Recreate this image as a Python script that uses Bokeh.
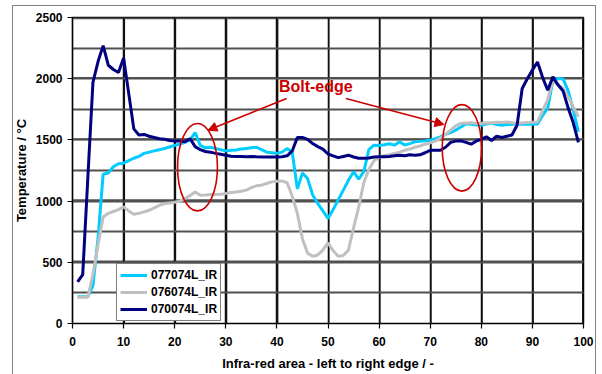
from bokeh.plotting import figure
from bokeh.models import (Range1d, FixedTicker, Legend, LegendItem, Label, Arrow,
                          NormalHead, ColumnDataSource, InlineStyleSheet)
from bokeh.embed import file_html
from bokeh.resources import INLINE

# ---------------- data ----------------
x_pos = list(range(1, 100))

ir_077074 = [218, 218, 220, 310, 700, 1220, 1230, 1280, 1305, 1310,
             1330, 1350, 1365, 1390, 1400, 1410, 1420, 1430, 1442, 1455,
             1465, 1480, 1500, 1560, 1455, 1435, 1440, 1430, 1420, 1410,
             1415, 1418, 1425, 1430, 1435, 1440, 1420, 1400, 1395, 1390,
             1400, 1430, 1400, 1100, 1230, 1185, 1050, 980, 920, 858,
             930, 1010, 1090, 1170, 1240, 1180, 1240, 1420, 1457, 1455,
             1460, 1468, 1457, 1484, 1458, 1470, 1484, 1488, 1492, 1497,
             1510, 1525, 1545, 1560, 1580, 1605, 1632, 1628, 1622, 1620,
             1630, 1638, 1625, 1620, 1625, 1628, 1628, 1628, 1628, 1628,
             1630, 1700, 1760, 1985, 2002, 1998, 1900, 1745, 1565]

ir_076074 = [215, 215, 215, 400, 645, 870, 900, 915, 930, 953,
             920, 893, 900, 912, 925, 945, 965, 980, 985, 990,
             1000, 1020, 1045, 1075, 1048, 1050, 1054, 1054, 1055, 1062,
             1070, 1075, 1080, 1090, 1110, 1125, 1130, 1144, 1157, 1163,
             1165, 1150, 1040, 900, 690, 575, 550, 560, 600, 659,
             595, 550, 555, 600, 780, 950, 1150, 1260, 1330, 1360,
             1370, 1380, 1390, 1400, 1415, 1425, 1440, 1450, 1465, 1475,
             1490, 1515, 1545, 1579, 1615, 1635, 1639, 1640, 1635, 1634,
             1640, 1639, 1645, 1642, 1647, 1640, 1634, 1638, 1642, 1645,
             1647, 1740, 1830, 1988, 1950, 1920, 1850, 1770, 1688]

ir_070074 = [340, 400, 1190, 1970, 2140, 2270, 2110, 2075, 2050, 2170,
             1880, 1590, 1540, 1545, 1530, 1520, 1510, 1505, 1495, 1490,
             1490, 1485, 1510, 1445, 1420, 1405, 1400, 1390, 1383, 1375,
             1367, 1365, 1365, 1362, 1365, 1362, 1360, 1360, 1360, 1360,
             1362, 1370, 1410, 1520, 1520, 1505, 1470, 1445, 1425, 1385,
             1370, 1355, 1365, 1375, 1360, 1350, 1350, 1352, 1360, 1362,
             1362, 1365, 1370, 1375, 1370, 1378, 1375, 1378, 1395, 1415,
             1415, 1416, 1440, 1480, 1490, 1492, 1480, 1465, 1490, 1505,
             1525, 1495, 1530, 1520, 1530, 1540, 1620, 1920, 2000, 2070,
             2137, 2010, 1906, 2015, 1950, 1900, 1760, 1640, 1480]

series_names = ["077074L_IR", "076074L_IR", "070074L_IR"]
series_colors = ["#00CCFF", "#C0C0C0", "#000080"]

x_ticks = list(range(0, 101, 10))
y_ticks = list(range(0, 2501, 500))
y_grid = list(range(0, 2501, 250))

# annotations (data coordinates)
annot_text = "Bolt-edge"
annot_text_pos = (40.4, 1939)
ellipses_x = [24.46, 76.2]
ellipses_y = [1277, 1435]
ellipses_w = [7.8, 7.7]
ellipses_h = [714, 708]
arrows = [((41.9, 1838), (26.5, 1579)), ((53.5, 1838), (72.7, 1626))]

FONT = "Liberation Sans"
RED = "#CC0000"

border_css = InlineStyleSheet(css="""
:host::after {
  content: "";
  position: absolute;
  left: 12px;
  top: 5px;
  width: 584px;
  height: 369px;
  border-left: 1px solid #808080;
  border-top: 1px solid #808080;
  border-right: 1px solid #808080;
  border-bottom: none;
  box-sizing: border-box;
  pointer-events: none;
}
""")

p = figure(width=602, height=374, output_backend="svg", toolbar_location=None,
           x_range=Range1d(0, 100), y_range=Range1d(0, 2500),
           min_border_left=72, min_border_right=19, min_border_top=17,
           min_border_bottom=51, background_fill_color="white",
           border_fill_color="white")
p.stylesheets = [border_css]

p.outline_line_color = "black"
p.outline_line_width = 1.5

# axes
for ax in (p.xaxis, p.yaxis):
    ax.axis_line_color = "black"
    ax.axis_line_width = 1.2
    ax.major_tick_line_color = "black"
    ax.major_tick_line_width = 1.2
    ax.major_tick_out = 5
    ax.major_tick_in = 0
    ax.minor_tick_line_color = None
    ax.major_label_text_font = FONT
    ax.major_label_text_font_style = "bold"
    ax.major_label_text_font_size = "12px"
    ax.major_label_text_color = "black"
    ax.axis_label_text_font = FONT
    ax.axis_label_text_font_style = "bold"
    ax.axis_label_text_font_size = "13px"
    ax.axis_label_text_color = "black"

p.xaxis.ticker = FixedTicker(ticks=x_ticks)
p.yaxis.ticker = FixedTicker(ticks=y_ticks)
p.xaxis.axis_label = "Infra-red area - left to right edge / -"
p.yaxis.axis_label = "Temperature / °C"
p.xaxis.major_label_standoff = 8
p.yaxis.major_label_standoff = 5
p.xaxis.axis_label_standoff = 7
p.yaxis.axis_label_standoff = 4

# native grid (tick-aligned) plus slightly offset copies so lines always show
p.xgrid.ticker = FixedTicker(ticks=x_ticks)
p.ygrid.ticker = FixedTicker(ticks=y_grid)
p.xgrid.grid_line_color = "#111111"
p.ygrid.grid_line_color = "#505050"
p.xgrid.grid_line_width = 1.5
p.ygrid.grid_line_width = 2

gx = [v + 0.14 for v in x_ticks[1:-1]] + [x_ticks[-1] - 0.14]
vsrc = ColumnDataSource(dict(x0=gx, y0=[0] * len(gx), x1=gx, y1=[2500] * len(gx)))
p.segment("x0", "y0", "x1", "y1", source=vsrc, line_color="#111111",
          line_width=1.5, level="underlay")
gy = [v + 6 for v in y_ticks[1:-1]] + [y_ticks[-1] - 6]
hsrc = ColumnDataSource(dict(x0=[0] * len(gy), y0=gy, x1=[100] * len(gy), y1=gy))
p.segment("x0", "y0", "x1", "y1", source=hsrc, line_color="#505050",
          line_width=2, level="underlay")

# series
series = [ir_077074, ir_076074, ir_070074]
items = []
for name, col, ys in zip(series_names, series_colors, series):
    src = ColumnDataSource(dict(x=x_pos, y=ys))
    r = p.line("x", "y", source=src, line_color=col, line_width=3)
    items.append(LegendItem(label=name, renderers=[r]))

legend = Legend(items=items, location=(44, 2), orientation="vertical",
                label_text_font=FONT, label_text_font_style="bold",
                label_text_font_size="12px", label_text_color="black",
                glyph_width=27, glyph_height=16, label_height=16,
                label_standoff=4, spacing=1, padding=3, margin=0,
                border_line_color="black", border_line_width=1.2,
                background_fill_color="white", background_fill_alpha=1)
p.add_layout(legend, "center")

# ellipses
esrc = ColumnDataSource(dict(x=ellipses_x, y=ellipses_y, w=ellipses_w, h=ellipses_h))
p.ellipse("x", "y", width="w", height="h", source=esrc, fill_alpha=0,
          line_color=RED, line_width=1.6)

# arrows
for (x0, y0), (x1, y1) in arrows:
    p.add_layout(Arrow(x_start=x0, y_start=y0, x_end=x1, y_end=y1,
                       line_color=RED, line_width=1.6,
                       end=NormalHead(size=9, fill_color=RED, line_color=RED)))

p.add_layout(Label(x=annot_text_pos[0], y=annot_text_pos[1], text=annot_text,
                   text_font=FONT, text_font_style="bold", text_font_size="16px",
                   text_color=RED, text_baseline="middle", text_align="left"))

open("out.html", "w").write(file_html(p, INLINE))
